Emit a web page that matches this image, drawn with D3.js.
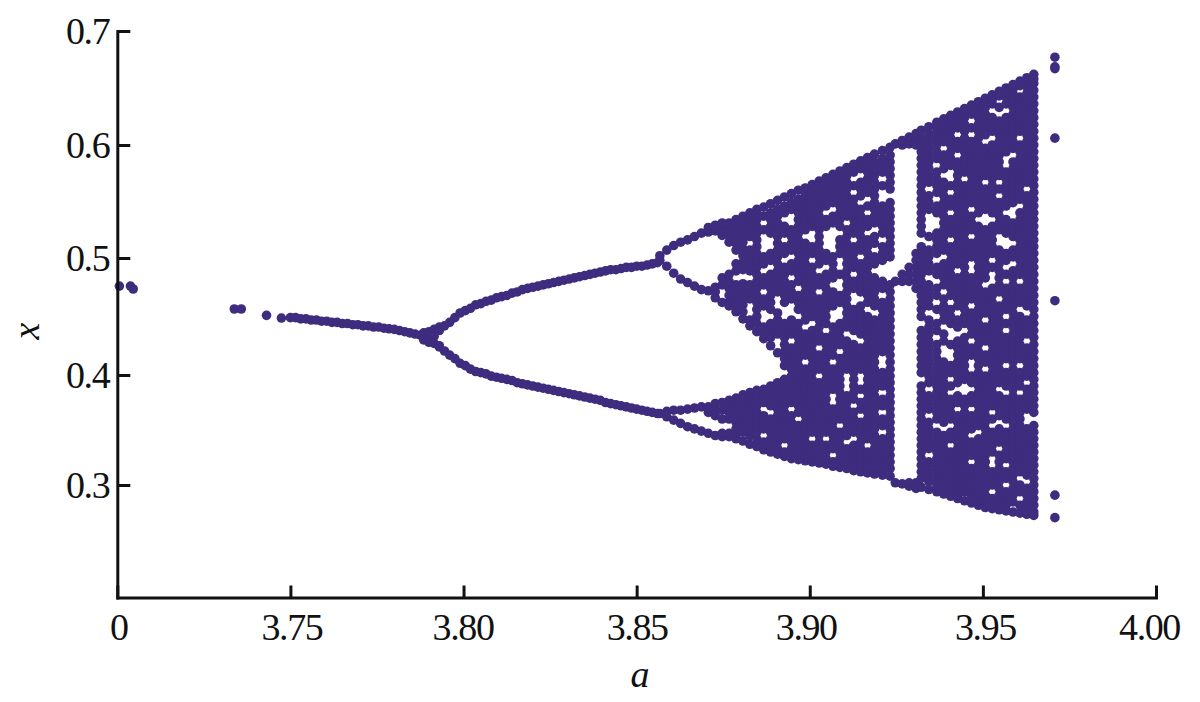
<!DOCTYPE html>
<html>
<head>
<meta charset="utf-8">
<script src="https://cdn.jsdelivr.net/npm/d3@7/dist/d3.min.js"></script>
<style>
html,body{margin:0;padding:0;background:#fff}
svg{display:block}
text{font-family:"Liberation Serif","Times New Roman",serif;fill:#111}
</style>
</head>
<body>
<svg id="chart" width="1200" height="702"></svg>
<script>
// tick labels
const xTickValues = [3.70, 3.75, 3.80, 3.85, 3.90, 3.95, 4.00];
const xTickLabels = ["0", "3.75", "3.80", "3.85", "3.90", "3.95", "4.00"];
const xLabelNudge = [1, 1, -1, 0, -4, 2, -7];
const yTickValues = [0.3, 0.4, 0.5, 0.6, 0.7];

// isolated points on the left: a, x (x values in thousandths)
const strayA = [3.7006, 3.7038, 3.7046, 3.7338, 3.7358, 3.7431, 3.7474];
const strayX = [476, 476, 473.5, 456.4, 456.4, 451, 448.7];

// period-1 stem
const stemA = [3.7500,3.7515,3.7530,3.7545,3.7560,3.7575,3.7590,3.7605,3.7620,3.7635,3.7650,3.7665,3.7680,3.7695,3.7710,3.7725,3.7740,3.7755,3.7770,3.7785,3.7800,3.7815,3.7830,3.7845,3.7860,3.7875,3.7890,3.7905];
const stemX = [449,449,448,448,447,447,446,446,445,445,444,444,443,443,442,442,441,441,440,439.5,439,438,437,436,435,434,433,432];

// first bifurcation knot
const knotA = [3.7885,3.7885,3.7900,3.7900,3.7915,3.7915,3.7930,3.7930,3.7900,3.7915];
const knotX = [436,430,437,428,439,427,441,425,433,433];

// period-2 branches
const branchA = [3.7930,3.7945,3.7960,3.7975,3.7990,3.8005,3.8020,3.8035,3.8050,3.8065,3.8080,3.8095,3.8110,3.8125,3.8140,3.8155,3.8170,3.8185,3.8200,3.8215,3.8230,3.8245,3.8260,3.8275,3.8290,3.8305,3.8320,3.8335,3.8350,3.8365,3.8380,3.8395,3.8410,3.8425,3.8440,3.8455,3.8470,3.8485,3.8500,3.8515,3.8530,3.8545,3.8560];
const branchUpper = [438,442,445,449,453,455,457,460,461,463,464,466,467,468,470,471,473,474,475,476,477,478,479,480,481,482,483,484,485,486,487,488,489,490,490,491,492,492,493,493,494,495,496];
const branchLower = [424,420.5,417,414,410,408,405,403,402,401,399,398,397,396,395,393,392,391,390,389,388,387,386,385,384,383,382,381,380,379,378,377,375,374,373,372,371,370,369,368,367,366,365];

// columns of the period-doubling and chaotic region
const chaosA = [3.8567,3.8587,3.8607,3.8627,3.8647,3.8667,3.8687,3.8707,3.8727,3.8747,3.8767,3.8787,3.8807,3.8827,3.8847,3.8867,3.8887,3.8907,3.8927,3.8947,3.8967,3.8987,3.9007,3.9027,3.9047,3.9067,3.9087,3.9107,3.9127,3.9147,3.9167,3.9187,3.9210,3.9232,3.9247,3.9267,3.9287,3.9307,3.9322,3.9344,3.9367,3.9387,3.9407,3.9427,3.9447,3.9467,3.9487,3.9507,3.9527,3.9547,3.9567,3.9587,3.9607,3.9627,3.9647];
const chaosX = [
[365,498,502],
[362,367,493,507],
[359,368,487,511],
[356,368,482,514],
[353,369,479,516],
[351,370,476,519],
[349,371,473,522],
[347,366,371,472,523,527],
[345,363,369,374,466,471,475,524,529],
[344,347,360,368,375,462,477,483,520,526,531],
[344,347,360,366,372,377,459,462,468,474,480,486,514,520,526,531],
[342,345,351,357,363,369,375,379,454,459,465,471,477,489,495,507,513,519,525,531,534],
[340,348,354,360,366,372,378,382,448,454,460,466,472,478,490,496,502,508,514,520,526,532,537],
[337,345,351,357,363,369,375,381,384,442,447,465,471,477,489,495,501,507,519,525,531,537,540],
[335,342,348,354,360,366,372,378,384,386,437,444,450,456,462,468,474,480,486,492,498,504,510,516,522,528,534,540,543],
[332,339,351,357,363,375,381,387,431,435,441,459,465,477,483,495,501,525,537,545],
[330,336,342,348,354,360,372,378,384,390,425,432,438,444,456,462,468,474,480,486,498,504,522,528,534,540,548],
[328,333,339,345,351,357,363,369,375,381,387,393,419,435,441,447,453,471,477,483,489,495,501,507,513,519,525,531,537,543,551],
[326,330,342,348,354,360,366,372,378,384,390,396,408,414,420,426,432,438,444,462,468,474,480,486,492,504,510,522,528,540,546,554],
[324,327,333,339,345,351,357,363,375,381,387,393,399,405,411,417,423,435,441,447,465,471,477,489,495,507,513,519,525,543,549,557],
[323,330,336,342,348,354,366,372,378,384,390,396,402,408,414,420,426,432,438,444,456,462,468,480,486,492,498,504,510,516,522,528,534,540,546,552,560],
[322,327,333,339,345,351,357,363,369,375,381,387,393,399,405,417,423,429,435,447,453,459,465,471,477,483,489,495,501,507,513,525,531,537,543,549,555,562],
[321,324,330,336,348,354,360,366,372,378,384,390,396,402,408,414,420,426,432,438,450,456,462,468,474,480,486,492,504,510,528,534,540,546,552,558,565],
[320,327,333,339,345,351,357,363,369,375,381,387,393,405,411,417,429,435,441,447,453,459,465,477,483,495,501,507,513,519,525,531,537,543,549,555,561,568],
[319,324,330,336,348,354,360,366,372,378,384,390,396,402,408,414,420,426,432,444,450,456,462,468,474,480,486,498,504,528,534,546,552,558,564,571],
[317,321,333,339,345,351,357,363,369,387,393,399,405,417,423,429,435,441,459,465,471,483,489,495,501,531,537,549,555,561,567,574],
[316,318,324,330,336,342,348,360,366,372,378,384,390,396,402,408,414,426,432,438,444,462,468,486,504,510,516,528,534,540,546,552,558,564,570,577],
[315,321,327,333,345,351,357,363,369,375,381,405,411,417,423,429,441,447,453,459,465,471,477,483,489,495,501,507,513,519,525,537,543,549,555,561,567,573,580],
[313,318,324,330,336,348,354,360,366,378,384,390,396,402,408,414,420,426,438,444,450,456,474,480,492,498,504,510,522,528,534,540,546,552,564,576,583],
[312,315,321,327,333,339,345,351,357,369,375,387,405,411,417,423,435,441,447,453,459,471,477,483,489,495,507,513,519,525,531,537,543,555,561,567,579,586],
[311,318,324,330,342,348,354,360,366,372,378,384,390,396,402,408,414,420,426,432,438,444,450,462,468,474,480,486,492,498,504,510,516,528,534,546,558,564,570,576,582,589],
[310,315,321,327,333,339,345,351,357,363,369,375,381,387,393,399,405,411,417,423,429,435,441,447,459,465,471,477,483,495,501,513,519,531,537,543,549,555,561,567,573,579,585,592],
[309,312,318,324,330,336,342,354,360,372,378,390,396,402,420,426,432,438,444,450,456,462,474,480,498,504,510,522,528,534,540,546,564,576,582,588,595],
[308,315,321,327,333,339,345,351,357,363,369,375,381,387,393,399,405,411,417,423,429,435,441,447,453,459,465,471,477,501,507,513,519,525,531,537,543,549,561,567,573,579,585,591,598],
[302,480,601],
[301,480,486,600,604],
[299,302,480,486,492,601,607],
[297,302,474,480,486,492,498,504,600,606,610],
[298,306,312,318,324,330,336,342,348,354,360,366,372,378,384,390,402,408,414,420,426,432,438,450,456,462,468,474,480,486,492,498,504,510,522,528,534,540,546,552,558,564,570,576,582,588,594,600,606,613],
[296,303,309,315,321,333,339,345,351,357,369,375,381,393,399,405,411,417,423,429,435,441,447,459,465,471,477,489,495,501,507,519,543,549,555,567,573,579,585,591,597,603,609,616],
[294,300,306,312,318,324,330,336,342,348,360,366,372,378,384,390,396,402,408,414,420,426,438,444,456,468,474,486,492,504,510,516,522,540,546,558,564,570,576,588,594,600,606,612,616,620],
[292,297,303,309,315,321,327,333,339,345,357,363,369,375,381,387,393,399,405,411,429,435,447,453,459,465,477,483,489,495,507,513,519,525,531,537,543,549,555,561,567,579,585,591,603,609,615,619,623],
[290,294,300,306,312,318,324,330,342,348,360,366,372,378,390,402,408,426,444,450,456,468,474,480,486,492,498,504,510,522,528,534,546,552,564,582,588,594,600,606,612,618,622,626],
[288,291,297,303,309,315,321,327,333,339,345,351,357,363,375,381,393,399,405,411,417,423,429,441,447,459,465,471,477,483,495,501,507,513,519,525,531,537,543,549,555,561,567,573,579,585,597,603,615,621,625,629],
[286,294,300,306,312,318,324,330,336,342,348,354,360,366,372,378,396,402,408,414,420,426,432,444,450,456,462,468,474,480,486,492,498,504,510,516,522,528,534,540,546,552,558,564,576,582,588,594,600,606,612,618,624,628,632],
[284,291,297,303,309,315,327,333,339,351,357,363,375,381,393,399,417,423,435,441,447,453,465,471,477,483,501,507,513,525,531,537,549,555,561,567,573,579,585,591,597,603,615,627,631,635],
[282,288,294,300,306,312,318,324,330,336,342,354,360,366,372,378,384,390,396,402,408,414,420,426,432,438,444,450,456,462,468,474,480,486,492,498,504,510,516,522,528,540,546,552,558,564,570,576,582,588,594,600,606,612,618,624,630,634,638],
[280,285,291,297,303,309,315,321,327,333,339,345,351,357,363,369,375,381,387,393,399,411,417,429,435,441,453,459,465,471,483,489,495,501,507,513,519,525,543,549,555,561,573,579,585,591,597,609,615,621,627,633,637,641],
[279,282,288,300,306,312,330,336,342,348,360,372,378,384,390,396,402,408,414,420,426,432,438,444,450,456,462,468,474,492,504,510,516,522,528,540,546,552,558,564,570,576,582,588,594,600,612,618,624,636,640,644],
[278,285,291,297,303,309,315,321,327,339,345,351,363,369,375,381,393,399,405,411,417,423,429,435,441,447,453,459,471,477,483,489,495,501,507,525,531,537,543,549,561,573,579,585,591,597,603,609,615,621,633,643,647],
[277,282,288,294,306,312,324,330,336,342,348,360,366,372,378,390,396,402,414,420,426,432,444,456,462,468,474,486,498,504,522,528,534,546,552,558,564,570,576,594,600,606,612,618,624,636,642,646,650],
[276,285,291,297,303,309,315,321,327,333,339,345,351,357,363,369,375,381,387,393,399,405,411,417,423,429,435,441,447,453,459,465,471,477,483,489,501,507,519,525,531,549,555,561,567,573,579,585,597,603,609,615,621,627,633,639,645,649,653],
[275,282,294,300,312,318,324,330,336,342,348,354,360,366,372,378,390,396,402,414,420,426,432,438,444,450,462,468,474,486,492,498,504,510,516,522,528,534,540,552,558,564,570,576,582,588,594,600,612,618,624,630,636,642,652,656],
[274,279,285,291,297,309,315,321,327,333,339,345,351,369,375,381,387,399,405,411,417,423,435,441,447,459,465,471,477,483,489,495,501,507,513,519,525,531,537,543,549,555,567,573,579,585,591,597,603,609,615,621,627,633,639,645,651,655,659],
[273,276,282,288,294,300,306,312,318,324,330,336,342,348,354,366,372,378,384,390,396,402,408,414,420,426,432,438,444,450,456,462,468,474,480,486,492,498,504,510,516,522,528,534,540,546,552,558,564,570,576,582,588,594,600,606,612,618,624,630,636,642,648,654,658,662]
];

// the separate column on the right
const outlierA = [3.9708,3.9708,3.9708,3.9708,3.9708,3.9708,3.9708];
const outlierX = [677,668.6,667,606,463.5,291,271];

const svg = d3.select("#chart");
const dotColor = "#3e2c7e";
const ink = "#111";

const xScale = d3.scaleLinear().domain([3.70, 4.00]).range([117.3, 1156]);
// the printed y ticks are not quite evenly spaced, so the scale follows each of them
const yScale = d3.scaleLinear().domain([0.2, 0.3, 0.4, 0.5, 0.6, 0.7]).range([597.5, 485, 375, 258, 145, 31]);

const points = [];
const addPairs = (as, xs) => as.forEach((a, i) => points.push({a, x: xs[i] / 1000}));
addPairs(strayA, strayX);
addPairs(stemA, stemX);
addPairs(knotA, knotX);
addPairs(branchA, branchUpper);
addPairs(branchA, branchLower);
chaosA.forEach((a, i) => chaosX[i].forEach(v => points.push({a, x: v / 1000})));
addPairs(outlierA, outlierX);

svg.append("g").selectAll("circle").data(points).join("circle")
  .attr("cx", d => xScale(d.a))
  .attr("cy", d => yScale(d.x))
  .attr("r", 4.8)
  .attr("fill", dotColor);

const xAxis = d3.axisBottom(xScale)
  .tickValues(xTickValues)
  .tickFormat((d, i) => xTickLabels[i])
  .tickSizeInner(-12).tickSizeOuter(0).tickPadding(20);
const yAxis = d3.axisLeft(yScale)
  .tickValues(yTickValues)
  .tickFormat(d3.format(".1f"))
  .tickSizeInner(-13).tickSizeOuter(0).tickPadding(8);

const gx = svg.append("g").attr("transform", "translate(0,597.5)").call(xAxis);
const gy = svg.append("g").attr("transform", "translate(117.3,0)").call(yAxis);

[gx, gy].forEach(g => {
  g.selectAll("path.domain").attr("stroke", ink).attr("stroke-width", 3).attr("stroke-linecap", "square");
  g.selectAll(".tick line").attr("stroke", ink).attr("stroke-width", 3);
  g.selectAll("text")
    .style("font-family", '"Liberation Serif","Times New Roman",serif')
    .style("font-size", "38px")
    .style("letter-spacing", "-1.4px")
    .attr("fill", ink);
});
gx.selectAll(".tick text").attr("y", 12).attr("dy", "0.8em").attr("dx", (d, i) => xLabelNudge[i]);
gy.selectAll(".tick text").attr("dy", "0.33em");

svg.append("text").attr("x", 640).attr("y", 687)
  .attr("text-anchor", "middle")
  .style("font-size", "38px").style("font-style", "italic")
  .text("a");
svg.append("text")
  .attr("transform", "translate(39,331) rotate(-90)")
  .attr("text-anchor", "middle")
  .style("font-size", "38px").style("font-style", "italic")
  .text("x");
</script>
</body>
</html>
